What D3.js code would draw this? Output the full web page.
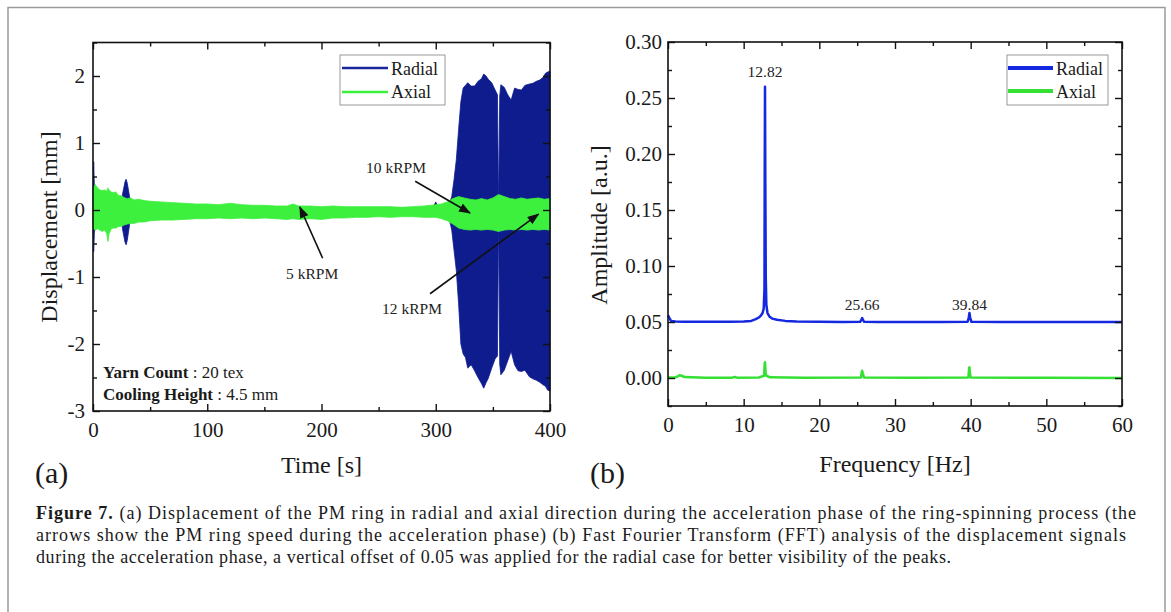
<!DOCTYPE html>
<html>
<head>
<meta charset="utf-8">
<script src="https://cdn.jsdelivr.net/npm/d3@7"></script>
<style>
  body { margin: 0; background: #fff; }
  text { font-family: "Liberation Serif", "Times New Roman", serif; }
</style>
</head>
<body>
<div id="chart"></div>
<script>
// ---- (a) displacement envelopes ----
let radialTime = [
  0, 0.6, 1.2, 2, 3, 4, 24, 26, 28, 29,
  30, 32, 34, 60, 120, 200, 280, 298, 300, 302,
  306, 310, 312, 314, 316, 318, 320, 322, 324, 326,
  328, 331, 334, 337, 340, 342, 344, 346, 349, 352,
  354, 355, 356, 357, 360, 363, 366, 369, 372, 375,
  378, 382, 385, 388, 391, 394, 396, 398, 400
];
let radialUpper = [
  0.15, 0.72, 0.35, 0.18, 0.12, 0.05, 0.05, 0.25, 0.42, 0.46,
  0.40, 0.20, 0.05, 0.04, 0.03, 0.03, 0.03, 0.05, 0.12, 0.05,
  0.03, 0.04, 0.10, 0.20, 0.45, 0.75, 1.20, 1.62, 1.82, 1.86,
  1.90, 1.85, 1.85, 1.92, 1.96, 2.03, 2.00, 1.95, 1.90, 1.79,
  1.72, 0.00, 1.70, 1.87, 1.83, 1.72, 1.64, 1.82, 1.80, 1.79,
  1.86, 1.88, 1.89, 1.92, 1.94, 1.98, 2.04, 2.06, 2.07
];
let radialLower = [
  -0.10, -0.62, -0.35, -0.20, -0.12, -0.05, -0.05, -0.30, -0.48, -0.52,
  -0.45, -0.22, -0.06, -0.05, -0.05, -0.05, -0.05, -0.06, -0.06, -0.06,
  -0.05, -0.08, -0.15, -0.30, -0.60, -0.90, -1.40, -2.00, -2.15, -2.20,
  -2.36, -2.31, -2.40, -2.50, -2.59, -2.66, -2.58, -2.51, -2.36, -2.22,
  -2.18, 0.00, -2.30, -2.46, -2.39, -2.25, -2.11, -2.31, -2.40, -2.41,
  -2.39, -2.49, -2.52, -2.54, -2.57, -2.61, -2.63, -2.69, -2.70
];

let axialTime = [
  0, 2, 4, 6, 8, 10, 12, 13, 14, 16,
  18, 20, 22, 25, 28, 30, 33, 36, 40, 45,
  50, 60, 70, 80, 90, 100, 110, 120, 130, 140,
  150, 160, 170, 175, 180, 190, 200, 210, 220, 230,
  240, 250, 260, 270, 280, 290, 300, 305, 310, 315,
  320, 325, 330, 335, 340, 345, 350, 355, 360, 365,
  370, 375, 380, 385, 390, 395, 400
];
let axialUpper = [
  0.32, 0.38, 0.33, 0.30, 0.29, 0.30, 0.28, 0.33, 0.30, 0.27,
  0.26, 0.27, 0.22, 0.21, 0.18, 0.17, 0.18, 0.15, 0.16, 0.14,
  0.13, 0.12, 0.11, 0.10, 0.09, 0.09, 0.08, 0.10, 0.08, 0.07,
  0.07, 0.06, 0.06, 0.09, 0.06, 0.06, 0.05, 0.06, 0.05, 0.05,
  0.05, 0.05, 0.05, 0.04, 0.05, 0.06, 0.08, 0.09, 0.12, 0.17,
  0.20, 0.18, 0.16, 0.15, 0.17, 0.15, 0.18, 0.23, 0.20, 0.17,
  0.16, 0.18, 0.16, 0.17, 0.18, 0.16, 0.17
];
let axialLower = [
  -0.27, -0.30, -0.28, -0.30, -0.32, -0.30, -0.35, -0.47, -0.36, -0.28,
  -0.27, -0.27, -0.25, -0.24, -0.22, -0.21, -0.20, -0.20, -0.18, -0.18,
  -0.16, -0.15, -0.15, -0.14, -0.13, -0.13, -0.12, -0.13, -0.12, -0.13,
  -0.12, -0.13, -0.14, -0.13, -0.14, -0.13, -0.14, -0.12, -0.12, -0.11,
  -0.11, -0.10, -0.11, -0.10, -0.10, -0.11, -0.11, -0.13, -0.16, -0.21,
  -0.27, -0.29, -0.30, -0.29, -0.30, -0.29, -0.30, -0.32, -0.30, -0.29,
  -0.30, -0.29, -0.30, -0.29, -0.30, -0.29, -0.30
];

// ---- (b) FFT spectra (radial already offset by 0.05) ----
let radialFreq = [
  0, 0.15, 0.4, 1, 2, 4, 6, 8, 10, 11,
  11.6, 12.0, 12.3, 12.5, 12.65, 12.75, 12.78, 12.82, 12.86, 12.92,
  13.0, 13.15, 13.4, 13.8, 14.4, 15.5, 17, 20, 23, 25.4,
  25.55, 25.66, 25.77, 25.9, 28, 32, 36, 39.6, 39.75, 39.84,
  39.93, 40.1, 44, 50, 55, 60
];
let radialAmp = [
  0.056, 0.054, 0.051, 0.0505, 0.0503, 0.0502, 0.0502, 0.0503, 0.0505, 0.051,
  0.0525, 0.054, 0.056, 0.058, 0.062, 0.08, 0.18, 0.26, 0.18, 0.09,
  0.065, 0.058, 0.055, 0.053, 0.052, 0.051, 0.0505, 0.0502, 0.0501, 0.0502,
  0.052, 0.0535, 0.052, 0.0502, 0.05, 0.05, 0.05, 0.0502, 0.054, 0.058,
  0.054, 0.0502, 0.05, 0.05, 0.05, 0.05
];
let axialFreq = [
  0, 1, 1.3, 1.5, 1.8, 2.2, 5, 8.5, 8.8, 9.1,
  12, 12.7, 12.78, 12.82, 12.9, 13.0, 13.5, 18, 25.5, 25.6,
  25.66, 25.75, 25.9, 32, 39.7, 39.8, 39.84, 39.9, 40.0, 50,
  60
];
let axialAmp = [
  0.0005, 0.0005, 0.0015, 0.0025, 0.002, 0.0008, 0.0003, 0.0003, 0.001, 0.0003,
  0.0005, 0.002, 0.013, 0.014, 0.005, 0.002, 0.0006, 0.0002, 0.0005, 0.005,
  0.0065, 0.004, 0.0005, 0.0002, 0.0005, 0.009, 0.0095, 0.004, 0.0005, 0.0002,
  0.0001
];
let peakLabels = [12.82, 25.66, 39.84];

// tick values
let timeTicks = [0, 100, 200, 300, 400];
let timeMinor = [50, 150, 250, 350];
let dispTicks = [-3, -2, -1, 0, 1, 2];
let dispMinor = [-2.5, -1.5, -0.5, 0.5, 1.5, 2.5];
let freqTicks = [0, 10, 20, 30, 40, 50, 60];
let freqMinor = [5, 15, 25, 35, 45, 55];
let ampTicks = [0, 0.05, 0.1, 0.15, 0.2, 0.25, 0.3];
let ampMinor = [-0.025, 0.025, 0.075, 0.125, 0.175, 0.225, 0.275];

let seriesNames = ['Radial', 'Axial'];

let radialDark = '#0e1c8e';
let axialGreen = '#3ef03e';
let fftBlue = '#1428e0';
let fftGreen = '#35e035';

let chart_width = 1171;
let chart_height = 612;

let svg = d3
  .select('#chart')
  .append('svg')
  .attr('width', chart_width)
  .attr('height', chart_height);

// outer figure frame (open at the bottom, cropped)
svg
  .append('path')
  .attr('d', 'M8,612 V7.5 H1165 V612')
  .attr('fill', 'none')
  .attr('stroke', '#9a9a9a')
  .attr('stroke-width', 1.5);

//scales
let xa = d3.scaleLinear().domain([0, 400]).range([93, 550]);
let ya = d3.scaleLinear().domain([-3, 2.5]).range([411, 42.5]);
let xb = d3.scaleLinear().domain([0, 60]).range([668, 1122]);
let yb = d3.scaleLinear().domain([-0.025, 0.3]).range([406, 42]);

//draws the box with inward ticks on all 4 sides
function drawFrame(x, y, xt, xm, yt, ym, yfmt, yPad) {
  let [x0, x1] = x.range();
  let [y0, y1] = y.range();
  let g = svg.append('g');
  let sides = [
    [d3.axisBottom, x, y0, xt, xm, true],
    [d3.axisTop, x, y1, xt, xm, false],
    [d3.axisLeft, y, x0, yt, ym, true],
    [d3.axisRight, y, x1, yt, ym, false]
  ];
  sides.forEach(s => {
    let horiz = s[0] === d3.axisBottom || s[0] === d3.axisTop;
    let tr = horiz ? 'translate(0,' + s[2] + ')' : 'translate(' + s[2] + ',0)';
    let fmt = s[5] ? (horiz ? d => String(d) : yfmt) : '';
    let major = g
      .append('g')
      .attr('transform', tr)
      .call(
        s[0](s[1])
          .tickValues(s[3])
          .tickSize(-7)
          .tickPadding(horiz ? 11 : yPad)
          .tickFormat(fmt)
      );
    let minor = g
      .append('g')
      .attr('transform', tr)
      .call(s[0](s[1]).tickValues(s[4]).tickSize(-4).tickFormat(''));
    [major, minor].forEach(a => {
      a.select('.domain').remove();
      a.selectAll('line').attr('stroke', '#111').attr('stroke-width', 1.4);
    });
    major
      .selectAll('text')
      .attr('font-size', 21)
      .attr('fill', '#1a1a1a')
      .style('font-family', '"Liberation Serif", serif');
  });
  g.append('rect')
    .attr('x', x0)
    .attr('y', y1)
    .attr('width', x1 - x0)
    .attr('height', y0 - y1)
    .attr('fill', 'none')
    .attr('stroke', '#111')
    .attr('stroke-width', 1.6);
  return g;
}

// ---------- panel (a) ----------
let radialRows = radialTime.map((t, i) => ({ t: t, hi: radialUpper[i], lo: radialLower[i] }));
let axialRows = axialTime.map((t, i) => ({ t: t, hi: axialUpper[i], lo: axialLower[i] }));

let band = d3
  .area()
  .x(d => xa(d.t))
  .y0(d => ya(d.lo))
  .y1(d => ya(d.hi));

svg
  .append('path')
  .datum(radialRows)
  .attr('d', band)
  .attr('fill', radialDark)
  .attr('stroke', radialDark)
  .attr('stroke-width', 0.8);

svg
  .append('path')
  .datum(axialRows)
  .attr('d', band)
  .attr('fill', axialGreen)
  .attr('stroke', axialGreen)
  .attr('stroke-width', 0.8);

drawFrame(xa, ya, timeTicks, timeMinor, dispTicks, dispMinor, d => String(d), 8);

// arrows with speed labels (data coordinates)
svg
  .append('defs')
  .append('marker')
  .attr('id', 'head')
  .attr('markerUnits', 'userSpaceOnUse')
  .attr('markerWidth', 12)
  .attr('markerHeight', 9)
  .attr('refX', 11)
  .attr('refY', 4.5)
  .attr('orient', 'auto')
  .append('path')
  .attr('d', 'M0,0 L12,4.5 L0,9 z')
  .attr('fill', '#111');

let speedNotes = [
  { label: '10 kRPM', at: [239, 0.55], from: [282, 0.43], to: [330, -0.045] },
  { label: '5 kRPM', at: [169, -1.03], from: [201, -0.72], to: [181, 0.045] },
  { label: '12 kRPM', at: [253, -1.55], from: [295, -1.25], to: [390, -0.06] }
];
speedNotes.forEach(n => {
  svg
    .append('line')
    .attr('x1', xa(n.from[0]))
    .attr('y1', ya(n.from[1]))
    .attr('x2', xa(n.to[0]))
    .attr('y2', ya(n.to[1]))
    .attr('stroke', '#111')
    .attr('stroke-width', 1.6)
    .attr('marker-end', 'url(#head)');
  svg
    .append('text')
    .attr('x', xa(n.at[0]))
    .attr('y', ya(n.at[1]))
    .attr('font-size', 15.5)
    .attr('fill', '#222')
    .text(n.label);
});

let info = [
  ['Yarn Count', ' : 20 tex'],
  ['Cooling Height', ' : 4.5 mm']
];
info.forEach((r, i) => {
  let t = svg
    .append('text')
    .attr('x', 103)
    .attr('y', 378 + i * 22)
    .attr('font-size', 17)
    .attr('fill', '#1a1a1a');
  t.append('tspan').attr('font-weight', 'bold').text(r[0]);
  t.append('tspan').text(r[1]);
});

// legend (a)
let legA = svg.append('g');
legA
  .append('rect')
  .attr('x', 340)
  .attr('y', 55)
  .attr('width', 105)
  .attr('height', 50)
  .attr('fill', '#fff')
  .attr('stroke', '#999')
  .attr('stroke-width', 1);
seriesNames.forEach((s, i) => {
  legA
    .append('line')
    .attr('x1', 342)
    .attr('x2', 388)
    .attr('y1', 68 + i * 24)
    .attr('y2', 68 + i * 24)
    .attr('stroke', i === 0 ? '#17279a' : axialGreen)
    .attr('stroke-width', 2.5);
  legA
    .append('text')
    .attr('x', 391)
    .attr('y', 75 + i * 23)
    .attr('font-size', 18)
    .attr('fill', '#1a1a1a')
    .text(s);
});

// titles (a)
svg
  .append('text')
  .attr('x', (xa.range()[0] + xa.range()[1]) / 2)
  .attr('y', 473)
  .attr('text-anchor', 'middle')
  .attr('font-size', 24)
  .attr('fill', '#1a1a1a')
  .text('Time [s]');
svg
  .append('text')
  .attr('transform', 'translate(57,227) rotate(-90)')
  .attr('text-anchor', 'middle')
  .attr('font-size', 24)
  .attr('fill', '#1a1a1a')
  .text('Displacement [mm]');
svg
  .append('text')
  .attr('x', 35)
  .attr('y', 483)
  .attr('font-size', 30)
  .attr('fill', '#1a1a1a')
  .text('(a)');

// ---------- panel (b) ----------
let spec = d3
  .line()
  .x(d => xb(d[0]))
  .y(d => yb(d[1]));

svg
  .append('path')
  .datum(axialFreq.map((f, i) => [f, axialAmp[i]]))
  .attr('d', spec)
  .attr('fill', 'none')
  .attr('stroke', fftGreen)
  .attr('stroke-width', 2.5)
  .attr('stroke-linejoin', 'round');

svg
  .append('path')
  .datum(radialFreq.map((f, i) => [f, radialAmp[i]]))
  .attr('d', spec)
  .attr('fill', 'none')
  .attr('stroke', fftBlue)
  .attr('stroke-width', 2.5)
  .attr('stroke-linejoin', 'round');

drawFrame(xb, yb, freqTicks, freqMinor, ampTicks, ampMinor, d => d.toFixed(2), 6);

//peak labels
peakLabels.forEach(p => {
  let top = radialAmp[radialFreq.indexOf(p)];
  let yy = p === 12.82 ? yb(top) - 10 : yb(0.05) - 12;
  svg
    .append('text')
    .attr('x', xb(p))
    .attr('y', yy)
    .attr('text-anchor', 'middle')
    .attr('font-size', 15.5)
    .attr('fill', '#222')
    .text(p.toFixed(2));
});

// legend (b)
let legB = svg.append('g');
legB
  .append('rect')
  .attr('x', 1007)
  .attr('y', 55)
  .attr('width', 101)
  .attr('height', 50)
  .attr('fill', '#fff')
  .attr('stroke', '#999')
  .attr('stroke-width', 1);
seriesNames.forEach((s, i) => {
  legB
    .append('line')
    .attr('x1', 1008)
    .attr('x2', 1053)
    .attr('y1', 68 + i * 23)
    .attr('y2', 68 + i * 23)
    .attr('stroke', i === 0 ? fftBlue : fftGreen)
    .attr('stroke-width', 4);
  legB
    .append('text')
    .attr('x', 1056)
    .attr('y', 75 + i * 23)
    .attr('font-size', 18)
    .attr('fill', '#1a1a1a')
    .text(s);
});

svg
  .append('text')
  .attr('x', (xb.range()[0] + xb.range()[1]) / 2)
  .attr('y', 472)
  .attr('text-anchor', 'middle')
  .attr('font-size', 24)
  .attr('fill', '#1a1a1a')
  .text('Frequency [Hz]');
svg
  .append('text')
  .attr('transform', 'translate(607,225) rotate(-90)')
  .attr('text-anchor', 'middle')
  .attr('font-size', 24)
  .attr('fill', '#1a1a1a')
  .text('Amplitude [a.u.]');
svg
  .append('text')
  .attr('x', 590)
  .attr('y', 483)
  .attr('font-size', 30)
  .attr('fill', '#1a1a1a')
  .text('(b)');

// ---------- caption ----------
let captionLines = [
  ['Figure 7.', ' (a) Displacement of the PM ring in radial and axial direction during the acceleration phase of the ring-spinning process (the'],
  ['', 'arrows show the PM ring speed during the acceleration phase) (b) Fast Fourier Transform (FFT) analysis of the displacement signals'],
  ['', 'during the acceleration phase, a vertical offset of 0.05 was applied for the radial case for better visibility of the peaks.']
];
let captionWidths = [1100, 1090, 915];
captionLines.forEach((l, i) => {
  let t = svg
    .append('text')
    .attr('x', 36)
    .attr('y', 519 + i * 22)
    .attr('font-size', 18)
    .attr('fill', '#1a1a1a')
    .attr('textLength', captionWidths[i])
    .attr('lengthAdjust', 'spacing');
  if (l[0]) t.append('tspan').attr('font-weight', 'bold').text(l[0]);
  t.append('tspan').text(l[1]);
});
</script>
</body>
</html>
